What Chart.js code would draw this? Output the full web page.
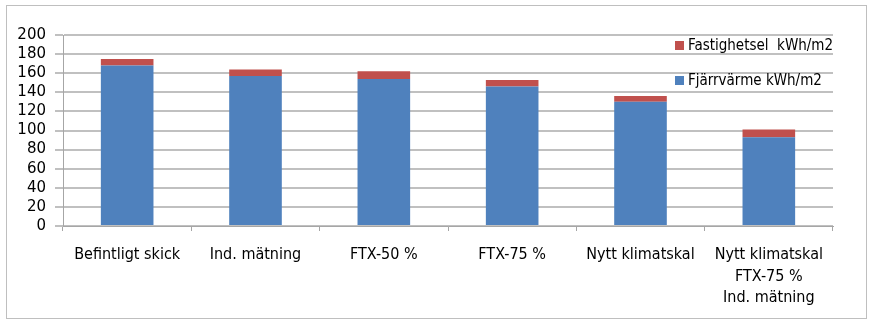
<html lang="sv">
<head>
<meta charset="utf-8">
<script src="https://cdn.jsdelivr.net/npm/chart.js"></script>
<style>
  body { margin: 0; background: #fff; }
  #wrap { width: 887px; height: 328px; position: relative; }
</style>
</head>
<body>
<div id="wrap"><canvas id="energi"></canvas></div>
<script>
// data
const kategorier = ['Befintligt skick', 'Ind. mätning', 'FTX-50 %', 'FTX-75 %', 'Nytt klimatskal', ['Nytt klimatskal', 'FTX-75 %', 'Ind. mätning']];
const fjarrvarme = [168, 157, 154, 146, 130, 93];
const fastighetsel = [7, 7, 8, 7, 6, 8];
const yTicks = [0, 20, 40, 60, 80, 100, 120, 140, 160, 180, 200];

const BLUE = '#4f81bd';
const RED = '#c0504d';
const SMAL = '"Liberation Sans Narrow", "DejaVu Sans Condensed", sans-serif';

// ram runt diagrammet + egen legend uppe till höger
const ramOchLegend = {
  id: 'ramOchLegend',
  beforeDraw(chart) {
    const c = chart.ctx;
    c.save();
    c.strokeStyle = '#bfbfbf';
    c.lineWidth = 1;
    c.strokeRect(6.5, 5.5, 860, 313);
    c.restore();
  },
  afterDatasetsDraw(chart) {
    const c = chart.ctx;
    const rader = [
      { color: RED, text: 'Fastighetsel  kWh/m2', y: 45 },
      { color: BLUE, text: 'Fjärrvärme kWh/m2', y: 80 }
    ];
    c.save();
    c.font = '15px ' + SMAL;
    c.textBaseline = 'middle';
    rader.forEach(r => {
      c.fillStyle = r.color;
      c.fillRect(675, r.y - 4, 9, 9);
      c.fillStyle = '#000';
      c.fillText(r.text, 688, r.y + 1);
    });
    c.restore();
  }
};

new Chart(document.getElementById('energi'), {
  type: 'bar',
  data: {
    labels: kategorier,
    datasets: [
      { label: 'Fjärrvärme kWh/m2', data: fjarrvarme, backgroundColor: BLUE },
      { label: 'Fastighetsel  kWh/m2', data: fastighetsel, backgroundColor: RED }
    ]
  },
  options: {
    responsive: true,
    maintainAspectRatio: false,
    animation: false,
    layout: { padding: { left: 0, right: 54, top: 35, bottom: 0 } },
    datasets: { bar: { barPercentage: 0.41, categoryPercentage: 1 } },
    plugins: { legend: { display: false }, tooltip: { enabled: false } },
    scales: {
      x: {
        stacked: true,
        grid: { display: true, drawOnChartArea: false, offset: true, color: '#a6a6a6', tickLength: 5 },
        border: { color: '#a6a6a6' },
        ticks: { color: '#000', padding: 13, maxRotation: 0, autoSkip: false, font: { family: SMAL, size: 16, lineHeight: 1.35 } },
        afterFit(s) { s.height = 102; }
      },
      y: {
        stacked: true,
        min: 0,
        max: 200,
        afterBuildTicks(s) { s.ticks = yTicks.map(v => ({ value: v })); },
        grid: { color: '#c0c0c0', lineWidth: 2, tickLength: 8 },
        border: { color: '#a6a6a6' },
        ticks: { color: '#000', padding: 9, autoSkip: false, font: { family: '"DejaVu Sans", sans-serif', size: 15 } },
        afterFit(s) { s.width = 63; }
      }
    }
  },
  plugins: [ramOchLegend]
});
</script>
</body>
</html>
